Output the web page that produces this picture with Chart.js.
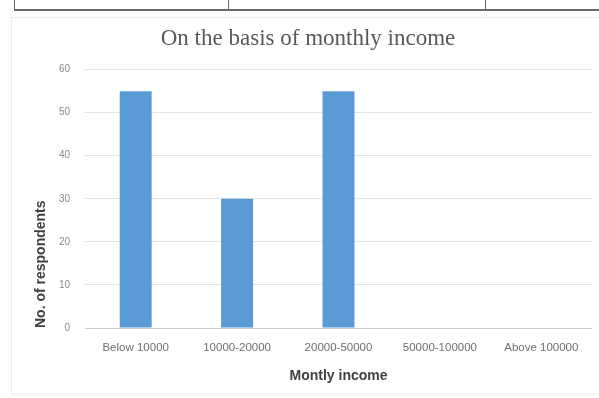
<!DOCTYPE html>
<html>
<head>
<meta charset="utf-8">
<script src="https://cdn.jsdelivr.net/npm/chart.js@4"></script>
<style>
  html, body { margin: 0; padding: 0; background: #fff; }
  #wrap { position: relative; width: 599px; height: 398px; overflow: hidden; }
  #chartBox { position: absolute; left: 0; top: 0; width: 599px; height: 398px; }
  .rule { position: absolute; background: #6b6b6b; }
  .frame { position: absolute; left: 11px; top: 17px; width: 600px; height: 376px; border: 1px solid #ececec; }
</style>
</head>
<body>
<div id="wrap">
  <div class="frame"></div>
  <div class="rule" style="left:14px; top:9px; width:585px; height:2px;"></div>
  <div class="rule" style="left:14px; top:0; width:1px; height:10px;"></div>
  <div class="rule" style="left:228px; top:0; width:1px; height:10px;"></div>
  <div class="rule" style="left:485px; top:0; width:1px; height:10px;"></div>
  <div id="chartBox"><canvas id="incomeChart"></canvas></div>
</div>
<script>
// values
const categories = ["Below 10000", "10000-20000", "20000-50000", "50000-100000", "Above 100000"];
const respondents = [55, 30, 55, 0, 0];
const yMin = 0;
const yMax = 60;
const yStep = 10;

const chartTitle = "On the basis of monthly income";
const xTitle = "Montly income";
const yTitle = "No. of respondents";

document.addEventListener("DOMContentLoaded", function () {
    const canvas = document.getElementById("incomeChart");
    const ctx = canvas.getContext("2d");

    new Chart(ctx, {
        type: "bar",
        data: {
            labels: categories,
            datasets: [{
                label: "No. of respondents",
                data: respondents,
                backgroundColor: "#5b9bd5",
                borderWidth: 0,
                barPercentage: 0.63,
                categoryPercentage: 0.5,
            }],
        },
        options: {
            responsive: true,
            maintainAspectRatio: false,
            animation: false,
            layout: { padding: { left: 24, right: 7, top: 0, bottom: 0 } },
            plugins: {
                legend: { display: false },
                tooltip: { enabled: false },
                title: {
                    display: true,
                    text: chartTitle,
                    color: "#595959",
                    font: { family: "'Liberation Serif', serif", size: 23, weight: "normal" },
                    padding: { top: 25, bottom: 17 },
                },
            },
            scales: {
                x: {
                    grid: { display: false, drawTicks: false },
                    border: { display: false },
                    ticks: {
                        color: "#6f6f6f",
                        padding: 13,
                        maxRotation: 0,
                        autoSkip: false,
                        font: { family: "'Liberation Sans', sans-serif", size: 11.5 },
                    },
                    title: {
                        display: true,
                        text: xTitle,
                        color: "#404040",
                        font: { family: "'Liberation Sans', sans-serif", size: 14, weight: "bold" },
                        padding: { top: 0, bottom: 13 },
                    },
                    afterFit: function (scale) { scale.height = 70; },
                },
                y: {
                    min: yMin,
                    max: yMax,
                    grid: {
                        drawTicks: false,
                        color: function (c) { return c.index === 0 ? "#cfcfcf" : "#e3e3e3"; },
                    },
                    border: { display: false },
                    ticks: {
                        stepSize: yStep,
                        color: "#8a8a8a",
                        padding: 15,
                        font: { family: "'Liberation Sans', sans-serif", size: 10 },
                    },
                    title: {
                        display: true,
                        text: yTitle,
                        align: "start",
                        color: "#404040",
                        font: { family: "'Liberation Sans', sans-serif", size: 14, weight: "bold" },
                        padding: { top: 9, bottom: 0 },
                    },
                    afterFit: function (scale) { scale.width = 61; },
                },
            },
        },
    });
});
</script>
</body>
</html>
